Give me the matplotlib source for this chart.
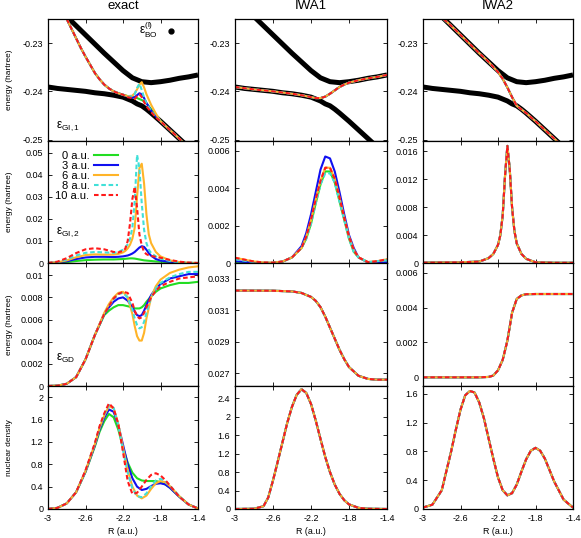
import matplotlib
matplotlib.use("Agg")
import matplotlib.pyplot as plt
from matplotlib.lines import Line2D

plt.rcParams["font.family"] = ["Liberation Sans", "DejaVu Sans"]
plt.rcParams["axes.unicode_minus"] = False
plt.rcParams["mathtext.fontset"] = "custom"
plt.rcParams["mathtext.rm"] = "Liberation Sans"
plt.rcParams["mathtext.it"] = "Liberation Sans"

# ---- data ----
FIELDS = ["0 a.u.", "3 a.u.", "6 a.u.", "8 a.u.", "10 a.u."]
COLUMN_TITLES = ["exact", "IWA1", "IWA2"]

X_TICKS = [-3, -2.6, -2.2, -1.8, -1.4]
X_TICKLABELS = ["-3", "-2.6", "-2.2", "-1.8", "-1.4"]

# Born-Oppenheimer surfaces (same in every column)
R_BO_UP = [-2.8, -2.7, -2.6, -2.5, -2.4, -2.3, -2.2, -2.1, -2.0, -1.9, -1.8, -1.7, -1.6, -1.5, -1.4]
E_BO_UP = [-0.2245, -0.2264, -0.2283, -0.2302, -0.2321, -0.2339, -0.2357, -0.2372, -0.2380, -0.2382,
           -0.2380, -0.2377, -0.2373, -0.2370, -0.2366]
R_BO_LO = [-3.0, -2.9, -2.8, -2.7, -2.6, -2.5, -2.4, -2.3, -2.2, -2.15, -2.1, -2.05, -2.0, -1.95, -1.9,
           -1.8, -1.7, -1.6, -1.55]
E_BO_LO = [-0.2391, -0.2394, -0.2396, -0.2398, -0.2400, -0.2403, -0.2405, -0.2408, -0.2412, -0.2416,
           -0.2420, -0.2426, -0.2430, -0.2437, -0.2445, -0.2462, -0.2480, -0.2498, -0.2507]

# exact: eps_GI,1
R_GI1 = [-2.8, -2.75, -2.7, -2.65, -2.6, -2.55, -2.5, -2.45, -2.4, -2.35, -2.3, -2.25, -2.2, -2.15, -2.1,
         -2.075, -2.05, -2.025, -2.0, -1.975, -1.95, -1.9, -1.85, -1.8, -1.75, -1.7, -1.65, -1.6, -1.55]
GI1_0 = [-0.2250, -0.2270, -0.2290, -0.2310, -0.2328, -0.2345, -0.2362, -0.2375, -0.2386, -0.2394, -0.2400,
         -0.2404, -0.2407, -0.2410, -0.2412, -0.2413, -0.2414, -0.2416, -0.2418, -0.2421, -0.2425, -0.2437,
         -0.2450, -0.2461, -0.2471, -0.2480, -0.2489, -0.2498, -0.2507]
GI1_3 = [-0.2250, -0.2270, -0.2290, -0.2310, -0.2328, -0.2345, -0.2362, -0.2375, -0.2386, -0.2394, -0.2400,
         -0.2404, -0.2407, -0.2411, -0.2413, -0.2412, -0.2408, -0.2404, -0.2406, -0.2414, -0.2424, -0.2440,
         -0.2452, -0.2462, -0.2471, -0.2480, -0.2489, -0.2498, -0.2507]
GI1_6 = [-0.2250, -0.2270, -0.2290, -0.2310, -0.2328, -0.2345, -0.2362, -0.2375, -0.2386, -0.2394, -0.2400,
         -0.2404, -0.2407, -0.2410, -0.2409, -0.2404, -0.2396, -0.2386, -0.2381, -0.2392, -0.2406, -0.2428,
         -0.2446, -0.2462, -0.2471, -0.2480, -0.2489, -0.2498, -0.2507]
GI1_8 = [-0.2250, -0.2270, -0.2290, -0.2310, -0.2328, -0.2345, -0.2362, -0.2375, -0.2386, -0.2394, -0.2400,
         -0.2404, -0.2407, -0.2411, -0.2410, -0.2406, -0.2393, -0.2384, -0.2397, -0.2413, -0.2425, -0.2441,
         -0.2452, -0.2462, -0.2471, -0.2480, -0.2489, -0.2498, -0.2507]
GI1_10 = [-0.2250, -0.2270, -0.2290, -0.2310, -0.2328, -0.2345, -0.2362, -0.2375, -0.2386, -0.2394, -0.2400,
          -0.2404, -0.2407, -0.2412, -0.2414, -0.2416, -0.2410, -0.2406, -0.2412, -0.2422, -0.2431, -0.2443,
          -0.2454, -0.2462, -0.2471, -0.2480, -0.2489, -0.2498, -0.2507]

# exact: eps_GI,2
R_GI2 = [-3.0, -2.9, -2.8, -2.7, -2.6, -2.5, -2.4, -2.3, -2.25, -2.2, -2.175, -2.15, -2.125, -2.1, -2.075,
         -2.05, -2.025, -2.0, -1.975, -1.95, -1.925, -1.9, -1.85, -1.8, -1.7, -1.6, -1.5, -1.4]
GI2_0 = [0.0, 0.0001, 0.0004, 0.0009, 0.0013, 0.0015, 0.0016, 0.0016, 0.0017, 0.0018, 0.0019, 0.0020, 0.0021,
         0.0021, 0.0020, 0.0018, 0.0016, 0.0014, 0.0012, 0.0011, 0.0010, 0.0009, 0.0007, 0.0006, 0.0003, 0.0001,
         0.0, 0.0]
GI2_3 = [0.0, 0.0002, 0.0008, 0.0018, 0.0025, 0.0028, 0.0028, 0.0027, 0.0028, 0.0030, 0.0032, 0.0034, 0.0038,
         0.0043, 0.0050, 0.0060, 0.0070, 0.0076, 0.0073, 0.0060, 0.0045, 0.0033, 0.0018, 0.0011, 0.0005, 0.0002,
         0.0, 0.0]
GI2_6 = [0.0, 0.0003, 0.0012, 0.0026, 0.0036, 0.0039, 0.0038, 0.0038, 0.0041, 0.0048, 0.0055, 0.0066, 0.0083,
         0.0110, 0.0160, 0.0300, 0.0430, 0.0450, 0.0360, 0.0220, 0.0130, 0.0090, 0.0050, 0.0030, 0.0012, 0.0004,
         0.0001, 0.0]
GI2_8 = [0.0, 0.0004, 0.0016, 0.0034, 0.0046, 0.0050, 0.0048, 0.0046, 0.0050, 0.0060, 0.0070, 0.0085, 0.0110,
         0.0160, 0.0280, 0.0490, 0.0430, 0.0270, 0.0150, 0.0090, 0.0060, 0.0045, 0.0030, 0.0020, 0.0009, 0.0003,
         0.0001, 0.0]
GI2_10 = [0.0, 0.0006, 0.0022, 0.0045, 0.0062, 0.0067, 0.0062, 0.0050, 0.0048, 0.0055, 0.0065, 0.0100, 0.0180,
          0.0290, 0.0345, 0.0250, 0.0130, 0.0080, 0.0050, 0.0040, 0.0035, 0.0032, 0.0028, 0.0024, 0.0014, 0.0006,
          0.0002, 0.0]

# exact: eps_GD
R_GD = [-3.0, -2.9, -2.8, -2.7, -2.6, -2.5, -2.4, -2.35, -2.3, -2.25, -2.2, -2.15, -2.1, -2.075, -2.05, -2.025,
        -2.0, -1.975, -1.95, -1.9, -1.85, -1.8, -1.7, -1.6, -1.5, -1.4]
GD_0 = [0.0, 0.00003, 0.0002, 0.0008, 0.0024, 0.0046, 0.0064, 0.0068, 0.0071, 0.0073, 0.0073, 0.0072, 0.0071,
        0.0070, 0.0070, 0.0070, 0.0071, 0.0073, 0.0076, 0.0081, 0.0085, 0.0088, 0.0091, 0.0093, 0.0093, 0.0094]
GD_3 = [0.0, 0.00003, 0.0002, 0.0008, 0.0024, 0.0046, 0.0065, 0.0071, 0.0076, 0.0079, 0.0080, 0.0077, 0.0071,
        0.0067, 0.0064, 0.0063, 0.0064, 0.0068, 0.0073, 0.0082, 0.0088, 0.0092, 0.0097, 0.0099, 0.0101, 0.0101]
GD_6 = [0.0, 0.00003, 0.0002, 0.0008, 0.0024, 0.0046, 0.0066, 0.0074, 0.0080, 0.0084, 0.0085, 0.0080, 0.0065,
        0.0054, 0.0045, 0.0041, 0.0041, 0.0048, 0.0061, 0.0080, 0.0090, 0.0096, 0.0102, 0.0105, 0.0107, 0.0108]
GD_8 = [0.0, 0.00003, 0.0002, 0.0008, 0.0024, 0.0046, 0.0065, 0.0072, 0.0078, 0.0083, 0.0084, 0.0080, 0.0069,
        0.0061, 0.0055, 0.0052, 0.0053, 0.0058, 0.0066, 0.0080, 0.0088, 0.0093, 0.0098, 0.0101, 0.0103, 0.0103]
GD_10 = [0.0, 0.00003, 0.0002, 0.0008, 0.0024, 0.0046, 0.0065, 0.0072, 0.0079, 0.0083, 0.0085, 0.0084, 0.0075,
         0.0068, 0.0063, 0.0061, 0.0062, 0.0066, 0.0071, 0.0080, 0.0086, 0.0090, 0.0094, 0.0097, 0.0098, 0.0099]

# exact: nuclear density
R_DEN = [-3.0, -2.9, -2.8, -2.7, -2.6, -2.5, -2.45, -2.4, -2.35, -2.3, -2.25, -2.2, -2.15, -2.1, -2.05, -2.0,
         -1.95, -1.9, -1.85, -1.8, -1.75, -1.7, -1.6, -1.5, -1.4]
DEN_0 = [0.0, 0.02, 0.1, 0.3, 0.66, 1.12, 1.38, 1.57, 1.70, 1.64, 1.42, 1.10, 0.83, 0.65, 0.55, 0.51, 0.50,
         0.50, 0.50, 0.48, 0.44, 0.38, 0.22, 0.08, 0.01]
DEN_3 = [0.0, 0.02, 0.1, 0.3, 0.67, 1.14, 1.42, 1.63, 1.78, 1.74, 1.50, 1.15, 0.80, 0.55, 0.40, 0.34, 0.36,
         0.41, 0.45, 0.46, 0.44, 0.38, 0.22, 0.08, 0.01]
DEN_6 = [0.0, 0.02, 0.1, 0.3, 0.68, 1.16, 1.45, 1.67, 1.84, 1.80, 1.52, 1.10, 0.70, 0.40, 0.24, 0.19, 0.24,
         0.36, 0.46, 0.50, 0.48, 0.41, 0.23, 0.08, 0.01]
DEN_8 = [0.0, 0.02, 0.1, 0.3, 0.68, 1.17, 1.46, 1.68, 1.86, 1.81, 1.50, 1.05, 0.65, 0.37, 0.23, 0.21, 0.28,
         0.41, 0.51, 0.54, 0.50, 0.42, 0.23, 0.08, 0.01]
DEN_10 = [0.0, 0.02, 0.1, 0.3, 0.69, 1.18, 1.48, 1.71, 1.89, 1.80, 1.52, 1.02, 0.50, 0.27, 0.29, 0.40, 0.52,
          0.61, 0.64, 0.60, 0.52, 0.42, 0.22, 0.08, 0.01]

# IWA1
R_IWA1_GI1 = [-3.0, -2.8, -2.6, -2.4, -2.3, -2.2, -2.15, -2.1, -2.05, -2.0, -1.95, -1.9, -1.85, -1.8, -1.7,
              -1.6, -1.5, -1.4]
IWA1_GI1 = [-0.2391, -0.2396, -0.2400, -0.2405, -0.2408, -0.2412, -0.2414, -0.2414, -0.2411, -0.2405, -0.2398,
            -0.2391, -0.2386, -0.2382, -0.2377, -0.2373, -0.2370, -0.2366]
R_IWA1_GI2 = [-3.0, -2.9, -2.8, -2.7, -2.6, -2.5, -2.4, -2.3, -2.25, -2.2, -2.15, -2.1, -2.05, -2.0, -1.95,
              -1.9, -1.85, -1.8, -1.75, -1.7, -1.6, -1.5, -1.4]
IWA1_GI2_0 = [0.00002, 0.00001, 0.0, 0.0, 0.0, 0.00007, 0.0003, 0.0008, 0.0013, 0.0021, 0.0032, 0.0042, 0.0049,
              0.0049, 0.0043, 0.0033, 0.0023, 0.0013, 0.0006, 0.0003, 0.00003, 0.00002, 0.00002]
IWA1_GI2_3 = [0.0001, 0.00006, 0.00003, 0.00001, 0.00001, 0.00008, 0.0003, 0.0009, 0.0016, 0.0026, 0.0038,
              0.0050, 0.0057, 0.0056, 0.0049, 0.0038, 0.0026, 0.0015, 0.0008, 0.0003, 0.00003, 0.00002, 0.00003]
IWA1_GI2_6 = [0.00028, 0.00018, 0.00008, 0.00003, 0.00002, 0.00008, 0.0003, 0.0008, 0.0014, 0.0023, 0.0034,
              0.0044, 0.0051, 0.0051, 0.0045, 0.0035, 0.0024, 0.0014, 0.0007, 0.0003, 0.00005, 0.0001, 0.0002]
IWA1_GI2_8 = [0.0002, 0.00012, 0.00005, 0.00002, 0.00001, 0.00007, 0.0003, 0.0008, 0.0013, 0.0021, 0.0032,
              0.0042, 0.0048, 0.0048, 0.0043, 0.0033, 0.0023, 0.0013, 0.0006, 0.0003, 0.00005, 0.0001, 0.00015]
IWA1_GI2_10 = [0.00028, 0.00018, 0.00008, 0.00003, 0.00002, 0.00008, 0.0003, 0.0008, 0.0014, 0.0023, 0.0034,
               0.0044, 0.0051, 0.0051, 0.0045, 0.0035, 0.0024, 0.0014, 0.0007, 0.0003, 0.00005, 0.0001, 0.0002]
R_IWA1_GD = [-3.0, -2.6, -2.4, -2.3, -2.2, -2.15, -2.1, -2.05, -2.0, -1.95, -1.9, -1.85, -1.8, -1.7, -1.6,
             -1.5, -1.4]
IWA1_GD = [0.03225, 0.03224, 0.03220, 0.03210, 0.03185, 0.03160, 0.03120, 0.03060, 0.02990, 0.02920, 0.02850,
           0.02790, 0.02740, 0.02685, 0.02665, 0.02660, 0.02660]
R_IWA1_DEN = [-3.0, -2.8, -2.7, -2.65, -2.6, -2.55, -2.5, -2.45, -2.4, -2.35, -2.3, -2.25, -2.2, -2.15, -2.1,
              -2.05, -2.0, -1.95, -1.9, -1.85, -1.8, -1.7, -1.6, -1.4]
IWA1_DEN = [0.0, 0.005, 0.06, 0.25, 0.62, 1.03, 1.45, 1.87, 2.22, 2.48, 2.60, 2.52, 2.28, 1.92, 1.52, 1.13,
            0.80, 0.53, 0.33, 0.19, 0.10, 0.025, 0.005, 0.0]

# IWA2
R_IWA2_GI1 = [-2.78, -2.7, -2.6, -2.5, -2.4, -2.3, -2.2, -2.15, -2.1, -2.05, -2.0, -1.9, -1.8, -1.7, -1.6, -1.55]
IWA2_GI1 = [-0.2250, -0.2264, -0.2283, -0.2302, -0.2321, -0.2339, -0.2360, -0.2374, -0.2392, -0.2412, -0.2430,
            -0.2445, -0.2462, -0.2480, -0.2498, -0.2507]
R_IWA2_GI2 = [-3.0, -2.6, -2.4, -2.3, -2.25, -2.2, -2.175, -2.15, -2.125, -2.1, -2.075, -2.05, -2.025, -2.0,
              -1.95, -1.9, -1.8, -1.6, -1.4]
IWA2_GI2 = [0.00005, 0.0001, 0.0002, 0.0007, 0.0013, 0.0026, 0.0040, 0.0068, 0.0125, 0.0168, 0.0135, 0.0080,
            0.0046, 0.0028, 0.0013, 0.0006, 0.0001, 0.00003, 0.00003]
R_IWA2_GD = [-3.0, -2.4, -2.3, -2.25, -2.2, -2.15, -2.1, -2.05, -2.0, -1.95, -1.9, -1.8, -1.6, -1.4]
IWA2_GD = [0.0, 0.0, 0.00002, 0.0001, 0.0004, 0.0010, 0.0021, 0.0037, 0.0045, 0.0047, 0.00477, 0.00478,
           0.00478, 0.00478]
R_IWA2_DEN = [-3.0, -2.9, -2.8, -2.7, -2.65, -2.6, -2.55, -2.5, -2.45, -2.4, -2.35, -2.3, -2.25, -2.2, -2.15,
              -2.1, -2.05, -2.0, -1.95, -1.9, -1.85, -1.8, -1.75, -1.7, -1.65, -1.6, -1.5, -1.4]
IWA2_DEN = [0.02, 0.06, 0.26, 0.80, 1.10, 1.38, 1.58, 1.64, 1.62, 1.48, 1.26, 0.98, 0.70, 0.44, 0.26, 0.19,
            0.22, 0.34, 0.52, 0.69, 0.81, 0.85, 0.81, 0.70, 0.54, 0.38, 0.13, 0.02]

# y axes: (limits, ticks, tick labels) per row, per column
E1_TICKS = ([-0.2503, -0.225], [-0.25, -0.24, -0.23], ["-0.25", "-0.24", "-0.23"])
Y_AXES = [
    [E1_TICKS, E1_TICKS, E1_TICKS],
    [([0, 0.0553], [0, 0.01, 0.02, 0.03, 0.04, 0.05], ["0", "0.01", "0.02", "0.03", "0.04", "0.05"]),
     ([0, 0.00653], [0, 0.002, 0.004, 0.006], ["0", "0.002", "0.004", "0.006"]),
     ([0, 0.0175], [0, 0.004, 0.008, 0.012, 0.016], ["0", "0.004", "0.008", "0.012", "0.016"])],
    [([0, 0.0111], [0, 0.002, 0.004, 0.006, 0.008, 0.01], ["0", "0.002", "0.004", "0.006", "0.008", "0.01"]),
     ([0.0262, 0.0340], [0.027, 0.029, 0.031, 0.033], ["0.027", "0.029", "0.031", "0.033"]),
     ([-0.0005, 0.00656], [0, 0.002, 0.004, 0.006], ["0", "0.002", "0.004", "0.006"])],
    [([0, 2.2], [0, 0.4, 0.8, 1.2, 1.6, 2.0], ["0", "0.4", "0.8", "1.2", "1.6", "2"]),
     ([0, 2.67], [0, 0.4, 0.8, 1.2, 1.6, 2.0, 2.4], ["0", "0.4", "0.8", "1.2", "1.6", "2", "2.4"]),
     ([0, 1.71], [0, 0.4, 0.8, 1.2, 1.6], ["0", "0.4", "0.8", "1.2", "1.6"])],
]
Y_LABELS = ["energy (hartree)", "energy (hartree)", "energy (hartree)", "nuclear density"]
PANEL_TAGS = ["\u03b5$_{\\mathrm{GI,1}}$", "\u03b5$_{\\mathrm{GI,2}}$", "\u03b5$_{\\mathrm{GD}}$"]

COLORS = ["#22dd22", "#1010f0", "#ffb428", "#40e0d8", "#ff1a1a"]
STYLES = ["-", "-", "-", (0, (2.2, 1.3)), (0, (2.2, 1.3))]

# ---- layout (pixel boxes of the gnuplot panels) ----
W, H = 581, 538
COLS = [(48, 198), (235, 387), (423, 573)]
ROWS = [(19, 141), (141, 263), (263, 386), (386, 509)]

fig = plt.figure(figsize=(W / 100, H / 100), dpi=100)
axes = [[fig.add_axes([x0 / W, 1 - y1 / H, (x1 - x0) / W, (y1 - y0) / H]) for (x0, x1) in COLS]
        for (y0, y1) in ROWS]


def draw_fields(ax, r, series):
    lines = []
    for ys, col, ls, lab in zip(series, COLORS, STYLES, FIELDS):
        (ln,) = ax.plot(r, ys, color=col, ls=ls, lw=1.5, label=lab)
        lines.append(ln)
    return lines


# row 1: BO surfaces + GI,1
for ax in axes[0]:
    ax.plot(R_BO_UP, E_BO_UP, color="k", lw=3.6, solid_capstyle="butt")
    ax.plot(R_BO_LO, E_BO_LO, color="k", lw=3.6, solid_capstyle="butt")
draw_fields(axes[0][0], R_GI1, [GI1_0, GI1_3, GI1_6, GI1_8, GI1_10])
draw_fields(axes[0][1], R_IWA1_GI1, [IWA1_GI1] * 5)
draw_fields(axes[0][2], R_IWA2_GI1, [IWA2_GI1] * 5)

# row 2: GI,2
legend_lines = draw_fields(axes[1][0], R_GI2, [GI2_0, GI2_3, GI2_6, GI2_8, GI2_10])
draw_fields(axes[1][1], R_IWA1_GI2, [IWA1_GI2_0, IWA1_GI2_3, IWA1_GI2_6, IWA1_GI2_8, IWA1_GI2_10])
draw_fields(axes[1][2], R_IWA2_GI2, [IWA2_GI2] * 5)

# row 3: GD
draw_fields(axes[2][0], R_GD, [GD_0, GD_3, GD_6, GD_8, GD_10])
draw_fields(axes[2][1], R_IWA1_GD, [IWA1_GD] * 5)
draw_fields(axes[2][2], R_IWA2_GD, [IWA2_GD] * 5)

# row 4: nuclear density
draw_fields(axes[3][0], R_DEN, [DEN_0, DEN_3, DEN_6, DEN_8, DEN_10])
draw_fields(axes[3][1], R_IWA1_DEN, [IWA1_DEN] * 5)
draw_fields(axes[3][2], R_IWA2_DEN, [IWA2_DEN] * 5)

for i, row in enumerate(axes):
    for j, ax in enumerate(row):
        ylim, yt, ytl = Y_AXES[i][j]
        ax.set_xlim(-3, -1.4)
        ax.set_ylim(*ylim)
        ax.set_xticks(X_TICKS)
        ax.set_yticks(yt)
        ax.set_yticklabels(ytl)
        if i == 3:
            ax.set_xticklabels(X_TICKLABELS)
            ax.set_xlabel("R (a.u.)", fontsize=6.4)
            ax.xaxis.set_label_coords(0.5, -0.15)
        else:
            ax.set_xticklabels([])
        ax.tick_params(direction="in", top=True, right=True, length=3, width=0.6,
                       labelsize=6.5, pad=3.5, colors="k")
        for sp in ax.spines.values():
            sp.set_linewidth(0.9)
        if i == 0:
            ax.text(0.5, 1 + 13 / 122, COLUMN_TITLES[j], transform=ax.transAxes,
                    ha="center", va="center", fontsize=9.5)
    axes[i][0].set_ylabel(Y_LABELS[i], fontsize=6)
    axes[i][0].yaxis.set_label_coords(-0.235, 0.5)

for i, (tag, ypos) in enumerate(zip(PANEL_TAGS, [0.12, 0.25, 0.22])):
    axes[i][0].text(0.05, ypos, tag, transform=axes[i][0].transAxes, ha="left", va="center", fontsize=8.5)

# key for the BO surfaces
bo_key = Line2D([], [], color="k", marker="o", ls="none", ms=3.5)
axes[0][0].legend([bo_key], ["\u03b5$_{\\mathrm{BO}}^{(l)}$"], loc="upper right", markerfirst=False,
                  frameon=False, fontsize=8.5, handlelength=1.0, handletextpad=0.6,
                  borderaxespad=0.1, bbox_to_anchor=(0.9, 1.04))

# key for the field strengths
axes[1][0].legend(legend_lines, FIELDS, loc="upper left", markerfirst=False, frameon=False,
                  fontsize=8, handlelength=2.2, handletextpad=0.4, labelspacing=0.0,
                  borderaxespad=0.0, bbox_to_anchor=(0.02, 0.955))

fig.savefig("out.png", dpi=100)
